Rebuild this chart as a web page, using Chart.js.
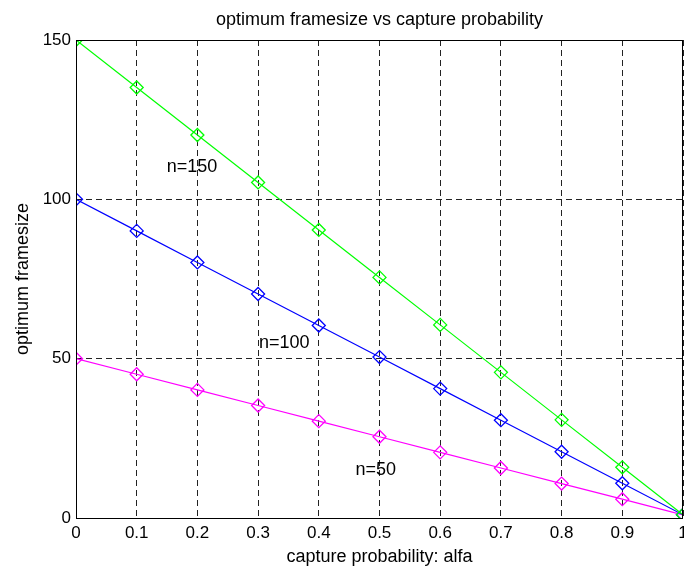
<!DOCTYPE html>
<html>
<head>
<meta charset="utf-8">
<script src="https://cdn.jsdelivr.net/npm/chart.js@4.4.0/dist/chart.umd.min.js"></script>
<style>
  html, body { margin: 0; padding: 0; background: #fff; overflow: hidden; }
  #wrap { position: relative; width: 700px; height: 568px; }
</style>
</head>
<body>
<div id="wrap"><canvas id="frameChart"></canvas></div>
<script>
// capture probability (x axis)
const alfa = [0, 0.1, 0.2, 0.3, 0.4, 0.5, 0.6, 0.7, 0.8, 0.9, 1];
// optimum framesize
const n150 = [150, 135.1, 120.2, 105.3, 90.4, 75.5, 60.6, 45.7, 30.8, 15.9, 1];
const n100 = [100, 90.1, 80.2, 70.3, 60.4, 50.5, 40.6, 30.7, 20.8, 10.9, 1];
const n50 = [50, 45.1, 40.2, 35.3, 30.4, 25.5, 20.6, 15.7, 10.8, 5.9, 1];
const yTicks = [0, 50, 100, 150];
// text labels in data coordinates
const curveLabels = ['n=150', 'n=100', 'n=50'];
const labelX = [0.191, 0.343, 0.494];
const labelY = [110, 55, 15];

const fontFam = '"Liberation Sans", Arial, Helvetica, sans-serif';

function toPoints(ys) {
  return alfa.map((a, i) => ({ x: a, y: ys[i] }));
}

function series(label, ys, color) {
  return {
    label: label,
    data: toPoints(ys),
    borderColor: color,
    backgroundColor: 'rgba(0,0,0,0)',
    borderWidth: 1.2,
    pointStyle: 'rectRot',
    pointRadius: 6.5,
    pointBorderWidth: 1.3,
    pointBorderColor: color,
    pointBackgroundColor: 'rgba(0,0,0,0)',
    tension: 0
  };
}

// draws the title, box frame and curve labels
const extras = {
  id: 'extras',
  afterDraw(chart) {
    const ctx = chart.ctx;
    const area = chart.chartArea;
    const xs = chart.scales.x, ys = chart.scales.y;
    ctx.save();
    ctx.strokeStyle = '#000';
    ctx.lineWidth = 1;
    ctx.strokeRect(area.left + 0.5, area.top + 0.5, area.right - area.left - 1, area.bottom - area.top);
    ctx.fillStyle = '#000';
    ctx.font = '18px ' + fontFam;
    ctx.textAlign = 'center';
    ctx.textBaseline = 'middle';
    ctx.fillText('optimum framesize vs capture probability', (area.left + area.right) / 2, 20);
    curveLabels.forEach((t, i) => {
      ctx.fillText(t, xs.getPixelForValue(labelX[i]), ys.getPixelForValue(labelY[i]));
    });
    ctx.restore();
  }
};

new Chart(document.getElementById('frameChart'), {
  type: 'line',
  data: {
    datasets: [
      series('n=150', n150, '#00ff00'),
      series('n=100', n100, '#0000ff'),
      series('n=50', n50, '#ff00ff')
    ]
  },
  options: {
    responsive: true,
    maintainAspectRatio: false,
    animation: false,
    layout: { padding: { top: 40, right: 17, left: 0, bottom: 0 } },
    plugins: {
      legend: { display: false },
      tooltip: { enabled: false }
    },
    scales: {
      x: {
        type: 'linear',
        min: 0,
        max: 1,
        afterFit: s => { s.height = 50; },
        grid: { color: '#222', lineWidth: 1, drawTicks: false },
        border: { display: false, dash: [6, 4] },
        ticks: {
          stepSize: 0.1,
          padding: 5,
          color: '#000',
          font: { family: fontFam, size: 17 },
          maxRotation: 0,
          callback: v => String(Math.round(v * 10) / 10)
        },
        title: {
          display: true,
          text: 'capture probability: alfa',
          color: '#000',
          font: { family: fontFam, size: 18 },
          padding: { top: 0, bottom: 0 }
        }
      },
      y: {
        type: 'linear',
        min: 0,
        max: 150,
        afterFit: s => { s.width = 76; },
        afterBuildTicks: s => { s.ticks = yTicks.map(v => ({ value: v })); },
        grid: { color: '#222', lineWidth: 1, drawTicks: false },
        border: { display: false, dash: [6, 4] },
        ticks: {
          padding: 5,
          color: '#000',
          font: { family: fontFam, size: 17 }
        },
        title: {
          display: true,
          text: 'optimum framesize',
          color: '#000',
          font: { family: fontFam, size: 18 },
          padding: { top: 12, bottom: 0 }
        }
      }
    }
  },
  plugins: [extras]
});
</script>
</body>
</html>
